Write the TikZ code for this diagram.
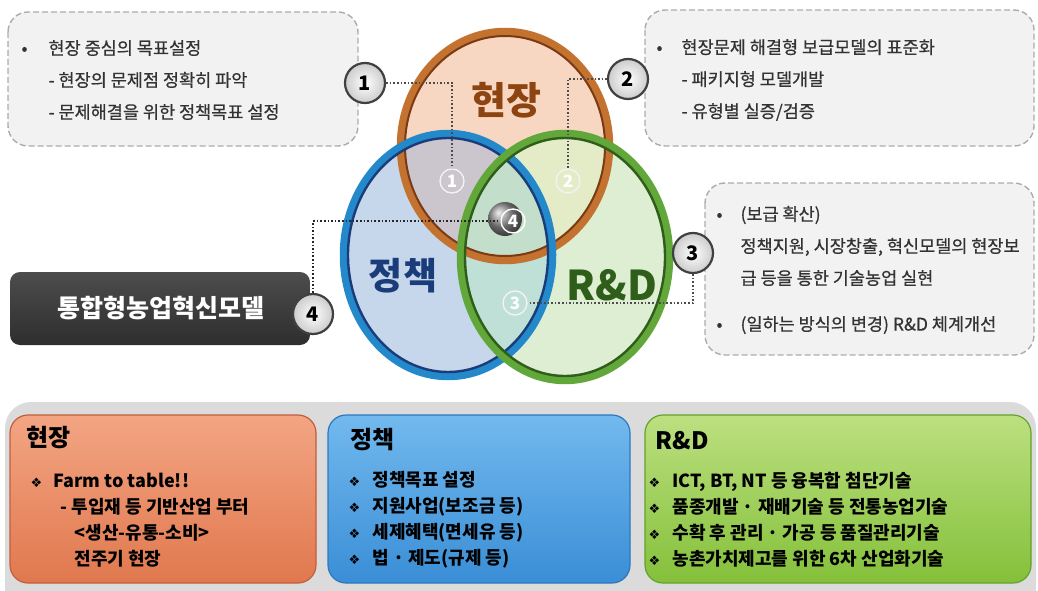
\documentclass[tikz,border=0pt]{standalone}
\usepackage{fontspec}
\setmainfont{Noto Sans CJK KR}
\newfontfamily\symfont{DejaVu Sans}
\usetikzlibrary{positioning}
\usetikzlibrary{shadings}

\definecolor{fieldfill}{HTML}{F8D7C2}
\definecolor{policyfill}{HTML}{C6D7EB}
\definecolor{rdfill}{HTML}{DDEED3}
\definecolor{fpfill}{HTML}{CBC5CD}
\definecolor{frfill}{HTML}{E3ECC6}
\definecolor{prfill}{HTML}{BFE0D6}
\definecolor{allfill}{HTML}{C3DFCB}
\definecolor{fieldline}{HTML}{C4722F}
\definecolor{fielddark}{HTML}{7A3A14}
\definecolor{policyline}{HTML}{2389CB}
\definecolor{policydark}{HTML}{1B3C7A}
\definecolor{rdline}{HTML}{62A73A}
\definecolor{rddark}{HTML}{2F5D1A}
\definecolor{notefill}{HTML}{F2F2F2}
\definecolor{hjtop}{HTML}{F3A583}
\definecolor{hjbot}{HTML}{E0784E}
\definecolor{hjedge}{HTML}{C25E3A}
\definecolor{pltop}{HTML}{72B9EE}
\definecolor{plbot}{HTML}{3A8ED6}
\definecolor{pledge}{HTML}{2C78BE}
\definecolor{rdtop}{HTML}{BCE080}
\definecolor{rdbot}{HTML}{84C03A}
\definecolor{rdedge}{HTML}{64A22A}

\newcommand{\dia}{\makebox[24pt][l]{\symfont\fontsize{13}{13}\selectfont ❖}}

\begin{document}
\begin{tikzpicture}[x=1pt,y=-1pt,
		note/.style={fill=notefill,draw=gray!65,line width=1.4pt,dash pattern=on 6pt off 3pt,rounded corners=20pt},
		notetext/.style={anchor=west,align=left,text=black!80,font=\fontsize{17.5}{32}\selectfont\addfontfeature{FakeBold=0.6}},
		badge/.style={circle,minimum size=40pt,inner sep=0pt,draw=black!75,line width=2.2pt,inner color=white,outer color=gray!40,font=\fontsize{20}{20}\selectfont\bfseries},
		regmark/.style={circle,minimum size=24pt,inner sep=0pt,draw=white,line width=1.4pt,text=white,font=\fontsize{17}{17}\selectfont\bfseries},
		link/.style={dotted,line width=1.6pt,gray!60!black},
		panel/.style={rounded corners=18pt,line width=1.2pt},
		paneltitle/.style={anchor=west,font=\fontsize{24}{24}\selectfont\bfseries},
		paneltext/.style={anchor=west,align=left,font=\fontsize{18}{26}\selectfont\bfseries}]
	\useasboundingbox (0,0) rectangle (1038,591);

	\coordinate (F) at (505,146);
	\coordinate (P) at (448,255);
	\coordinate (R) at (565,257);

	% region fills
	\fill[fieldfill] (F) ellipse [x radius=104,y radius=114];
	\fill[policyfill] (P) ellipse [x radius=104,y radius=121];
	\fill[rdfill] (R) ellipse [x radius=104,y radius=123];
	\begin{scope}
		\clip (F) ellipse [x radius=104,y radius=114];
		\fill[fpfill] (P) ellipse [x radius=104,y radius=121];
		\fill[frfill] (R) ellipse [x radius=104,y radius=123];
	\end{scope}
	\begin{scope}
		\clip (P) ellipse [x radius=104,y radius=121];
		\fill[prfill] (R) ellipse [x radius=104,y radius=123];
		\clip (F) ellipse [x radius=104,y radius=114];
		\fill[allfill] (R) ellipse [x radius=104,y radius=123];
	\end{scope}

	% rings
	\draw[fieldline,line width=8.5pt] (F) ellipse [x radius=104,y radius=114];
	\draw[fielddark,line width=2pt] (F) ellipse [x radius=100,y radius=110];
	\draw[policyline,line width=8.5pt] (P) ellipse [x radius=104,y radius=121];
	\draw[policydark,line width=2.4pt] (P) ellipse [x radius=100,y radius=117];
	\draw[rdline,line width=8.5pt] (R) ellipse [x radius=104,y radius=123];
	\draw[rddark,line width=2.4pt] (R) ellipse [x radius=100,y radius=119];

	\node[text=fielddark!85!orange,font=\fontsize{38}{38}\selectfont\bfseries] (lfield) at (506,100) {현장};
	\node[text=policydark,font=\fontsize{37}{37}\selectfont\bfseries] (lpolicy) at (403,276) {정책};
	\node[text=rddark,font=\fontsize{41}{41}\selectfont\bfseries] (lrd) at (612,285) {R\&D};

	% numbered marks inside the regions
	\node[regmark,draw=gray!10] (m1) at (452,181) {1};
	\node[regmark,draw=gray!10] (m2) at (568,181) {2};
	\node[regmark,draw=gray!10] (m3) at (515,303) {3};
	\shade[ball color=gray!85] (505,219) circle (17);
	\node[regmark] (m4) at (513,221) {4};

	% notes
	\draw[note] (8,12) rectangle (358,146);
	\node[notetext] (t1) at (18,80) {\makebox[27pt][l]{•}현장 중심의 목표설정\\
		\hspace*{27pt}- 현장의 문제점 정확히 파악\\
		\hspace*{27pt}- 문제해결을 위한 정책목표 설정};
	\draw[note] (645,10) rectangle (1034,146);
	\node[notetext] (t2) at (653,80) {\makebox[25pt][l]{•}현장문제 해결형 보급모델의 표준화\\
		\hspace*{25pt}- 패키지형 모델개발\\
		\hspace*{25pt}- 유형별 실증/검증};
	\draw[note] (705,183) rectangle (1034,355);
	\node[notetext] (t3) at (713,270) {\makebox[24pt][l]{•}(보급 확산)\\
		\hspace*{24pt}정책지원, 시장창출, 혁신모델의 현장보\\
		\hspace*{24pt}급 등을 통한 기술농업 실현\\[14pt]
		\makebox[24pt][l]{•}(일하는 방식의 변경) R\&D 체계개선};

	\shade[top color=black!70,bottom color=black!82,rounded corners=10pt] (10,272) rectangle (310,345);
	\node[text=white,font=\fontsize{25}{25}\selectfont\bfseries] (t4) at (161,308) {통합형농업혁신모델};

	% badges and their dotted leads
	\node[badge] (b1) at (365,83) {1};
	\node[badge] (b2) at (628,79) {2};
	\node[badge] (b3) at (693,253) {3};
	\node[badge] (b4) at (313,314) {4};
	\draw[link] (b1) -- (b1 -| m1) -- (m1);
	\draw[link] (b2) -- (b2 -| m2) -- (m2);
	\draw[link] (b3) |- (m3);
	\draw[link,black!85] (b4) |- (m4);

	% lower panel
	\fill[gray!28,rounded corners=26pt] (5,402) rectangle (1036,620);
	\shade[panel,top color=hjtop,bottom color=hjbot,draw=hjedge] (10,415) rectangle (316,583);
	\shade[panel,top color=pltop,bottom color=plbot,draw=pledge] (328,415) rectangle (630,583);
	\shade[panel,top color=rdtop,bottom color=rdbot,draw=rdedge] (645,415) rectangle (1031,583);

	\node[paneltitle] (h1) at (23,437) {현장};
	\node[paneltext] (h1t) at (27,520) {\makebox[23pt][l]{\symfont\fontsize{13}{13}\selectfont ❖}Farm to table!!\\
		\hspace*{30pt}- 투입재 등 기반산업 부터\\
		\hspace*{44pt}<생산-유통-소비>\\
		\hspace*{44pt}전주기 현장};
	\node[paneltitle] (h2) at (347,440) {정책};
	\node[paneltext] (h2t) at (345,520) {\dia 정책목표 설정\\
		\dia 지원사업(보조금 등)\\
		\dia 세제혜택(면세유 등)\\
		\dia 법 · 제도(규제 등)};
	\node[paneltitle] (h3) at (652,441) {R\&D};
	\node[paneltext] (h3t) at (645,520) {\dia ICT, BT, NT 등 융복합 첨단기술\\
		\dia 품종개발 · 재배기술 등 전통농업기술\\
		\dia 수확 후 관리 · 가공 등 품질관리기술\\
		\dia 농촌가치제고를 위한 6차 산업화기술};
\end{tikzpicture}
\end{document}
